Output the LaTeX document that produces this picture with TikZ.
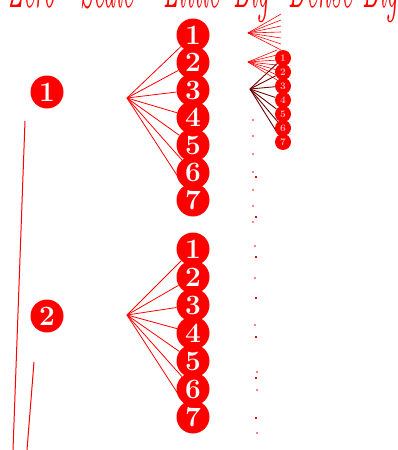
\documentclass[tikz,border=0pt]{standalone}
\usetikzlibrary{backgrounds}
\definecolor{pred}{RGB}{255,0,0}
\definecolor{maroon}{RGB}{110,0,0}
\begin{document}
\begin{tikzpicture}[x=1pt,y=-1pt,
  bignum/.style={circle,fill=pred,text=white,inner sep=0pt,minimum size=33pt,
    font=\fontsize{28}{28}\selectfont\bfseries},
  tinynum/.style={circle,fill=pred,text=white!70!pred,inner sep=0pt,minimum size=16pt,
    font=\fontsize{10}{10}\selectfont\bfseries},
  link/.style={pred,line width=0.8pt},
  darklink/.style={maroon,line width=0.9pt},
  ghost/.style={pred,line width=0.6pt},
  edge/.style={pred,line width=1pt},
  head/.style={pred,inner sep=0pt,anchor=base west,font=\fontsize{25}{25}\selectfont\itshape},
  dotc/.style={pred,fill=pred},
]
\useasboundingbox (0,0) rectangle (398,450);

% header (clipped at the top)
\node[head] (w1) at (8,7)   {\scalebox{1}[3]{Zero}};
\node[head] (w2) at (80,7)  {\scalebox{1}[3]{Scale}};
\node[head] (w3) at (163,7) {\scalebox{1}[3]{Little}};
\node[head] (w4) at (233,7) {\scalebox{1}[3]{Big}};
\node[head] (w5) at (288,7) {\scalebox{1}[3]{Dense}};
\node[head] (w6) at (362,7) {\scalebox{1}[3]{Big}};

% big left nodes
\node[bignum] (n1) at (47,92) {1};
\node[bignum] (n2) at (47,316) {2};

% hubs
\coordinate (h1) at (127,98);
\coordinate (h2) at (127,315);

% group 1 circles
\foreach \i/\y in {1/35,2/62.5,3/90,4/117.5,5/145,6/172.5,7/200}
  \node[bignum] (a\i) at (193,\y) {\i};
% group 2 circles
\foreach \i/\y in {1/249,2/277,3/305,4/333,5/361,6/389,7/417}
  \node[bignum] (b\i) at (193,\y) {\i};

% tiny circles
\foreach \i/\y in {1/58,2/72,3/86,4/100,5/114,6/128,7/142}
  \node[tinynum] (t\i) at (283,\y) {\i};

\begin{pgfonlayer}{background}
  \foreach \i in {1,...,7} {
    \draw[link] (h1) -- (a\i);
    \draw[link] (h2) -- (b\i);
  }
  % mini fans
  \coordinate (m1) at (248,33);
  \coordinate (m2) at (248,62);
  \coordinate (m3) at (250,89);
  \foreach \k in {0,...,6} {
    \coordinate (p\k) at (281,14+6*\k);
    \coordinate (q\k) at (277,50+5*\k);
    \draw[ghost] (m1) -- (p\k);
    \draw[ghost] (m2) -- (q\k);
  }
  \foreach \i in {1,...,7}
    \draw[darklink] (m3) -- (t\i);
\end{pgfonlayer}

% left vertical lines
\coordinate (l1a) at (25,121);
\coordinate (l1b) at (13,450);
\coordinate (l2a) at (34,362);
\coordinate (l2b) at (27,450);
\draw[edge] (l1a) -- (l1b);
\draw[edge] (l2a) -- (l2b);

% scattered dots
\foreach \x/\y in {253/120,253/136,253/154,253/172,253/190,253/206,253/222,255/246,255/278,255/325,257/372,257/390,257/433}
  \fill[dotc] (\x,\y) circle (0.9);
\foreach \x/\y in {256/177,256/217,256/257,256/298,256/337,256/378,256/418}
  \fill[dotc] (\x-1.3,\y-1.3) rectangle (\x+1.3,\y+1.3);
\end{tikzpicture}
\end{document}
